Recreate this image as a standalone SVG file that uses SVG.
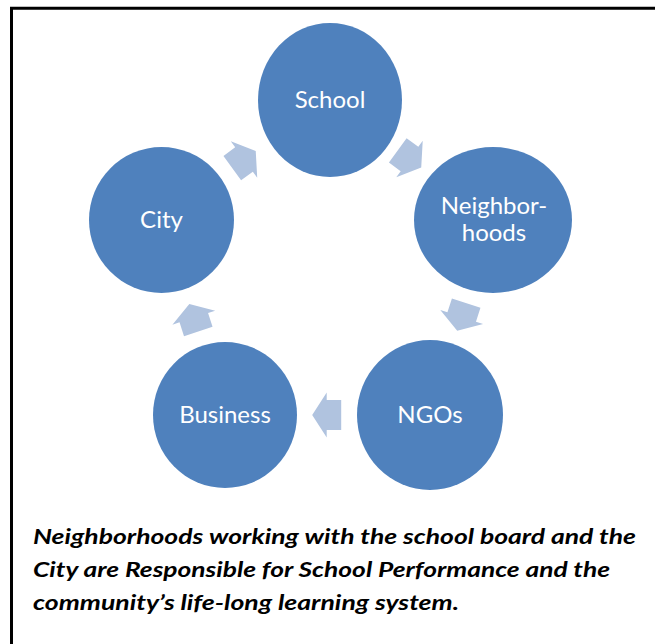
<svg xmlns="http://www.w3.org/2000/svg" width="655" height="644" viewBox="0 0 655 644">
<style>
.node{fill:#4f81bd}
.lbl{fill:#ffffff;font-family:Lato,"Open Sans","Liberation Sans",sans-serif;font-size:24px;text-anchor:middle}
.arrow{fill:#b0c3df}
.cap{fill:#000000;font-family:Lato,"Liberation Sans",sans-serif;font-size:20.5px;font-weight:bold;font-style:italic}
</style>
<defs>
<path id="arr" class="arrow" d="M-14.5,-15 H0 V-22.5 L14.5,0 L0,22.5 V15 H-14.5 Z"/>
</defs>
<rect x="0" y="0" width="655" height="644" fill="#ffffff"/>
<path d="M11.5,644 V8.2 H655" fill="none" stroke="#000000" stroke-width="3"/>
<g id="connectors">
<use href="#arr" transform="translate(244,159.5) rotate(-36)"/>
<use href="#arr" transform="translate(409.5,159) rotate(36)"/>
<use href="#arr" transform="translate(461.7,317) rotate(108)"/>
<use href="#arr" transform="translate(326.7,415) rotate(180)"/>
<use href="#arr" transform="translate(193.8,317.7) rotate(252)"/>
</g>
<g id="school">
<ellipse class="node" cx="330" cy="100" rx="72" ry="77"/>
<text class="lbl" x="330" y="107.5">School</text>
</g>
<g id="neighborhoods">
<ellipse class="node" cx="493" cy="220" rx="79" ry="73"/>
<text class="lbl" x="494" y="213.5">Neighbor-</text>
<text class="lbl" x="494" y="240.5">hoods</text>
</g>
<g id="ngos">
<ellipse class="node" cx="430" cy="415" rx="73" ry="75"/>
<text class="lbl" x="430" y="423">NGOs</text>
</g>
<g id="business">
<ellipse class="node" cx="225" cy="415" rx="72" ry="73"/>
<text class="lbl" x="225" y="423">Business</text>
</g>
<g id="city">
<ellipse class="node" cx="161.5" cy="220" rx="72.5" ry="73"/>
<text class="lbl" x="161.5" y="228">City</text>
</g>
<g id="caption">
<text class="cap" x="33" y="543.5" textLength="603" lengthAdjust="spacingAndGlyphs">Neighborhoods working with the school board and the</text>
<text class="cap" x="33" y="577" textLength="577" lengthAdjust="spacingAndGlyphs">City are Responsible for School Performance and the</text>
<text class="cap" x="33" y="610" textLength="426" lengthAdjust="spacingAndGlyphs">community’s life-long learning system.</text>
</g>
</svg>
